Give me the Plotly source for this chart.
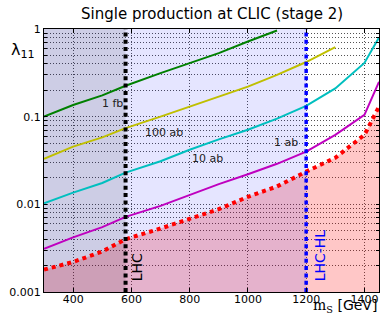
import plotly.graph_objects as go

# ---------------- data ----------------
mass = [300, 400, 500, 580, 700, 800, 900, 1000, 1100, 1200, 1300, 1400, 1450]

lumi_1fb   = [0.100, 0.136, 0.175, 0.225, 0.314, 0.41, 0.53, 0.72, 0.96, None, None, None, None]
lumi_100ab = [0.033, 0.0455, 0.058, 0.074, 0.100, 0.13, 0.17, 0.22, 0.30, 0.42, 0.62, None, None]
lumi_10ab  = [0.0103, 0.0136, 0.0175, 0.023, 0.031, 0.042, 0.055, 0.071, 0.095, 0.133, 0.21, 0.41, 0.80]
lumi_1ab   = [0.0031, 0.0042, 0.0055, 0.0072, 0.0096, 0.0128, 0.017, 0.022, 0.029, 0.040, 0.062, 0.105, 0.25]
lumi_excl  = [0.0018, 0.0022, 0.0029, 0.0040, 0.0053, 0.0069, 0.0088, 0.0122, 0.016, 0.0236, 0.034, 0.062, 0.13]

lhc_limit = 580
lhc_hl_limit = 1200
x_range = [300, 1450]
y_min, y_max = 0.001, 1.0

y_tickvals = [d * m for d in (0.001, 0.01, 0.1) for m in range(1, 10)] + [1.0]
y_ticktext = [("%g" % v) if v in (0.001, 0.01, 0.1, 1.0) else "" for v in y_tickvals]
x_tickvals = [400, 600, 800, 1000, 1200, 1400]

curve_labels = [
    ("1 fb", 534, -0.846),
    ("100 ab", 713, -1.185),
    ("10 ab", 862, -1.474),
    ("1 ab", 1132, -1.296),
]

FONT = "DejaVu Sans"

fig = go.Figure()

# red excluded region (below dotted curve)
m_ex = mass[:]
y_ex = lumi_excl[:]
fig.add_trace(go.Scatter(
    x=m_ex + [m_ex[-1], m_ex[0]], y=y_ex + [y_min, y_min],
    fill="toself", fillcolor="rgba(255,0,0,0.22)", mode="none",
    hoverinfo="skip", showlegend=False))

# lavender region (below LHC-HL)
fig.add_trace(go.Scatter(
    x=[x_range[0], lhc_hl_limit, lhc_hl_limit, x_range[0]],
    y=[y_min, y_min, y_max, y_max],
    fill="toself", fillcolor="rgba(0,0,255,0.1)", mode="none",
    hoverinfo="skip", showlegend=False))

# grey region (below LHC)
fig.add_trace(go.Scatter(
    x=[x_range[0], lhc_limit, lhc_limit, x_range[0]],
    y=[y_min, y_min, y_max, y_max],
    fill="toself", fillcolor="rgba(0,0,0,0.1)", mode="none",
    hoverinfo="skip", showlegend=False))

# sensitivity curves
for ys, col in [(lumi_1fb, "rgb(0,128,0)"), (lumi_100ab, "rgb(191,191,0)"),
                (lumi_10ab, "rgb(0,191,191)"), (lumi_1ab, "rgb(191,0,191)")]:
    fig.add_trace(go.Scatter(x=mass, y=ys, mode="lines",
                             line=dict(color=col, width=2),
                             hoverinfo="skip", showlegend=False))

fig.add_trace(go.Scatter(x=mass, y=lumi_excl, mode="lines",
                         line=dict(color="rgb(255,0,0)", width=4, dash="4px,4px"),
                         hoverinfo="skip", showlegend=False))

# LHC limits
fig.add_trace(go.Scatter(x=[lhc_limit, lhc_limit], y=[y_min, y_max], mode="lines",
                         line=dict(color="black", width=4, dash="4px,3.3px"),
                         hoverinfo="skip", showlegend=False))
fig.add_trace(go.Scatter(x=[lhc_hl_limit, lhc_hl_limit], y=[y_min, y_max], mode="lines",
                         line=dict(color="rgb(0,0,255)", width=3.5, dash="4px,3.3px"),
                         hoverinfo="skip", showlegend=False))

annotations = []
for txt, xm, ylog in curve_labels:
    annotations.append(dict(x=xm, y=ylog, xref="x", yref="y", text=txt,
                            showarrow=False, font=dict(family=FONT, size=11, color="#222")))
annotations.append(dict(x=622, y=-2.72, xref="x", yref="y", text="LHC", textangle=-90,
                        showarrow=False, font=dict(family=FONT, size=14, color="black")))
annotations.append(dict(x=1248, y=-2.58, xref="x", yref="y", text="LHC-HL", textangle=-90,
                        showarrow=False, font=dict(family=FONT, size=14, color="rgb(0,0,255)")))
# axis titles
annotations.append(dict(x=-0.103, y=0.965, xref="paper", yref="paper",
                        text="λ<sub>11</sub>", showarrow=False,
                        font=dict(family=FONT, size=16, color="black")))
annotations.append(dict(x=1.0, y=-0.053, xref="paper", yref="paper", xanchor="right", yanchor="middle",
                        text="<span style='font-family:DejaVu Serif'>m<sub>S</sub></span> [GeV]",
                        showarrow=False, font=dict(family=FONT, size=14, color="black")))
annotations.append(dict(x=0.5, y=1.0, xref="paper", yref="paper", yanchor="bottom", yshift=4,
                        text="Single production at CLIC (stage 2)", showarrow=False,
                        font=dict(family=FONT, size=15, color="black")))

grid_col = "rgba(40,40,40,0.8)"
fig.update_layout(
    width=381, height=320,
    margin=dict(l=44, r=2, t=29, b=28),
    paper_bgcolor="white", plot_bgcolor="white",
    font=dict(family=FONT, size=11, color="black"),
    annotations=annotations,
    xaxis=dict(range=x_range, tickvals=x_tickvals, showgrid=True, gridcolor=grid_col,
               griddash="1px,2px", gridwidth=1, showline=True, linecolor="black", linewidth=1,
               mirror="ticks", ticks="inside", ticklen=4, tickcolor="black", zeroline=False,
               tickfont=dict(size=11), ticklabelstandoff=-3),
    yaxis=dict(type="log", range=[-3, 0], tickvals=y_tickvals, ticktext=y_ticktext,
               showgrid=True, gridcolor=grid_col, griddash="1px,2px", gridwidth=1,
               showline=True, linecolor="black", linewidth=1, mirror="ticks",
               ticks="inside", ticklen=3, tickcolor="black", zeroline=False,
               tickfont=dict(size=11)),
)

fig.write_html("out.html", config={"displayModeBar": False},
               post_script="document.body.style.margin='0';document.body.style.overflow='hidden';")
